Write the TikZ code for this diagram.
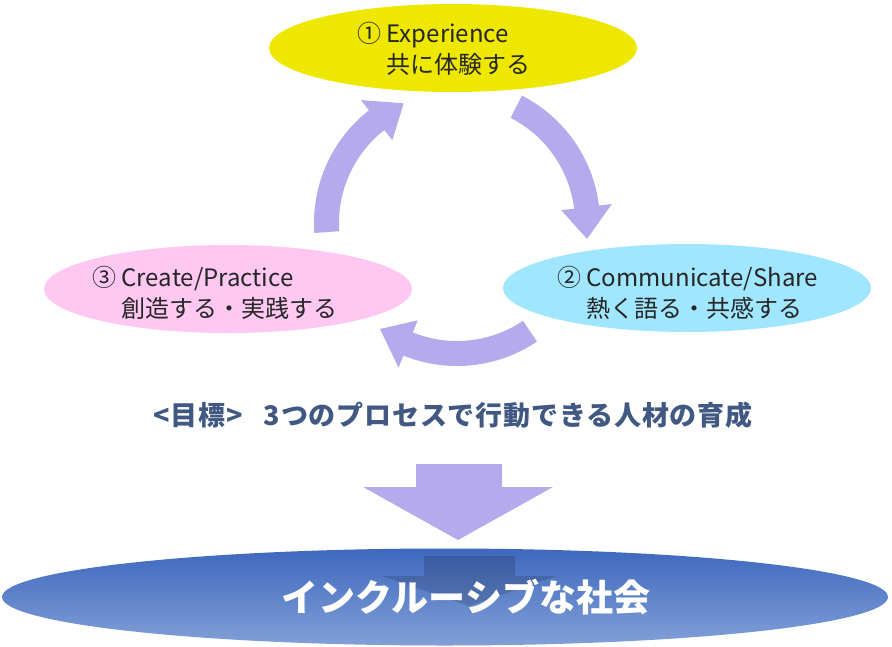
\documentclass[tikz,border=0pt]{standalone}
\usepackage{fontspec}
\setmainfont{Noto Sans CJK JP}
\newfontfamily\goalfont{Noto Sans CJK JP}[LetterSpace=3]
\usetikzlibrary{shapes.geometric}

\definecolor{stageyellow}{RGB}{238,232,0}
\definecolor{stagepink}{RGB}{255,200,242}
\definecolor{stagecyan}{RGB}{160,230,255}
\definecolor{arrowlav}{RGB}{180,170,236}
\definecolor{goalblue}{RGB}{64,88,130}
\definecolor{socdark}{RGB}{62,104,190}
\definecolor{soclight}{RGB}{130,160,215}

\begin{document}
\begin{tikzpicture}[x=1pt,y=-1pt,
    stagenode/.style={ellipse, minimum width=368pt, minimum height=88pt, inner sep=0pt},
    stagetext/.style={font=\fontsize{24}{31}\selectfont, align=left, anchor=west, inner sep=0pt, text=black!85},
    lavfill/.style={fill=arrowlav},
    goaltext/.style={font=\goalfont\fontsize{27}{29}\selectfont\bfseries, text=goalblue},
    soctext/.style={font=\fontsize{37}{40}\selectfont\bfseries}
]
\useasboundingbox (0,0) rectangle (892,646);

% three stages
\node[stagenode, fill=stageyellow] (exp) at (453,48) {};
\node[stagenode, fill=stagecyan] (com) at (687,288) {};
\node[stagenode, fill=stagepink] (cre) at (228,289) {};
\node[stagetext] (explbl) at (357,49) {① Experience\\\phantom{① }共に体験する};
\node[stagetext] (comlbl) at (557,293) {② Communicate/Share\\\phantom{② }熱く語る・共感する};
\node[stagetext] (crelbl) at (92,293) {③ Create/Practice\\\phantom{③ }創造する・実践する};

% cycle arrows
\begin{scope}[shift={(457,223)}]
\foreach \s in {-63,56,176}{
  \fill[lavfill] (\s:118) arc[start angle=\s, end angle=\s+56, radius=118]
    -- (\s+56:105) -- (\s+70:131) -- (\s+56:156) -- (\s+56:143)
    arc[start angle=\s+56, end angle=\s, radius=143] -- cycle;
}
\end{scope}

% goal
\node[goaltext] (goal) at (453,415) {<目標>\ \ \ 3つのプロセスで行動できる人材の育成};

% down arrow
\fill[lavfill] (416,464) -- (502,464) -- (502,487) -- (553,487) -- (458,540)
  -- (363,487) -- (416,487) -- cycle;

% inclusive society
\node[ellipse, minimum width=886pt, minimum height=97pt, inner sep=0pt,
  top color=socdark, bottom color=soclight] (soc) at (445,597) {};
\fill[black, opacity=0.15] (424,556) -- (515,556) -- (515,576) -- (556,576)
  -- (469,606) -- (382,576) -- (424,576) -- cycle;
\node[soctext, text=white] (soclbl) at (466,597) {インクルーシブな社会};
\end{tikzpicture}
\end{document}
